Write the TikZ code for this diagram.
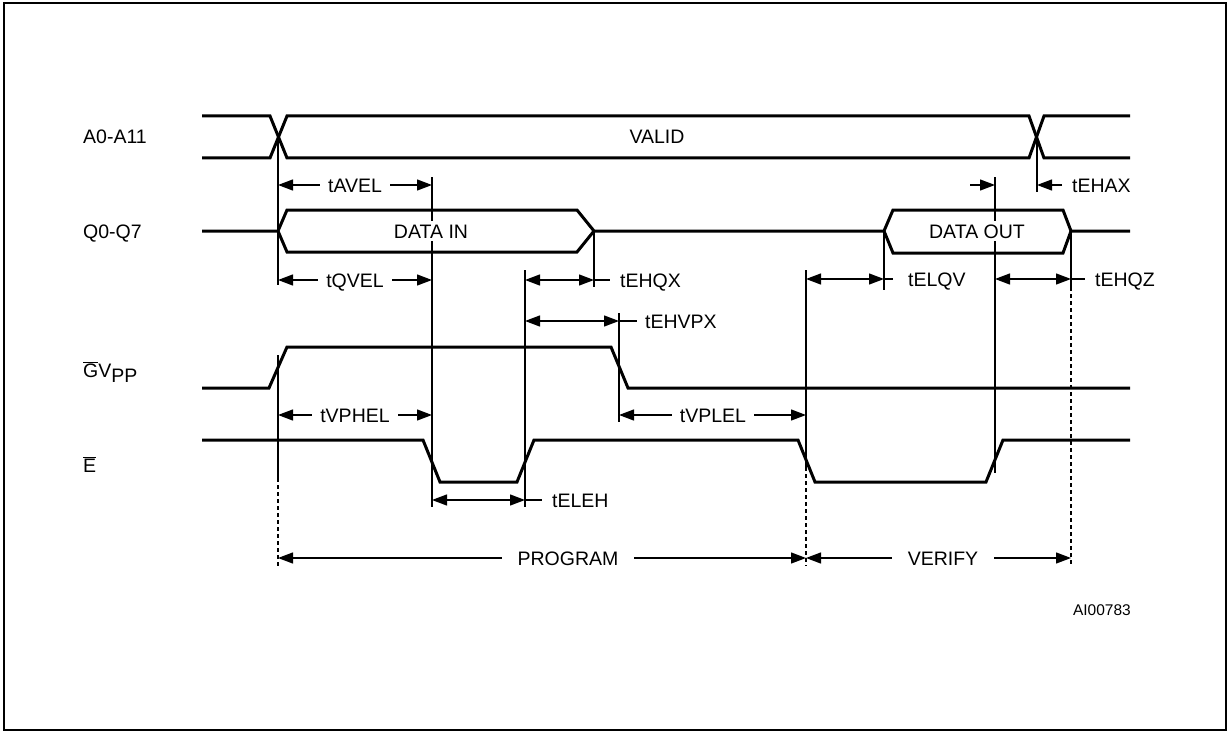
\documentclass[tikz,border=0pt]{standalone}
\usepackage{fontspec}
\setmainfont{Liberation Sans}
\usetikzlibrary{arrows.meta}
\begin{document}
\begin{tikzpicture}[x=1pt,y=-1pt,
  sig/.style={line width=3pt,line join=miter},
  guide/.style={line width=1.3pt},
  dsh/.style={line width=1.3pt,dash pattern=on 4pt off 3pt},
  tipr/.style={-{Triangle[length=15pt,width=11pt]}},
  dim/.style={line width=1.3pt,{Triangle[length=15pt,width=11pt]}-{Triangle[length=15pt,width=11pt]}},
  lbl/.style={font=\fontsize{19.5}{22}\selectfont,text height=14pt,text depth=0pt,inner sep=0pt},
  mid/.style={lbl,fill=white,inner xsep=8pt,inner ysep=2pt},
  wide/.style={mid,inner xsep=16pt},
  box/.style={lbl,fill=white,inner xsep=2pt,inner ysep=3pt}]
\useasboundingbox (0,0) rectangle (1229,733);
\draw[line width=2.5pt] (4,3) rectangle (1226,730);

% signal names
\node[lbl,anchor=west] (lA) at (83,137) {A0-A11};
\node[lbl,anchor=west] (lQ) at (83,231) {Q0-Q7};
\node[lbl,anchor=base west] (lG) at (83,377) {$\overline{\mbox{G}}$V\raisebox{-5pt}{PP}};
\node[lbl,anchor=base west] (lE) at (83,472) {$\overline{\mbox{E}}$};

% waveforms
\draw[sig] (202,116) -- (270,116) -- (287,158) -- (1029,158) -- (1044,116) -- (1130,116);
\draw[sig] (202,158) -- (270,158) -- (287,116) -- (1029,116) -- (1044,158) -- (1130,158);
\draw[sig] (202,231) -- (278,231) -- (287,210) -- (577,210) -- (594,231) -- (884,231)
  -- (893,210) -- (1063,210) -- (1071,231) -- (1130,231);
\draw[sig] (278,231) -- (287,252) -- (577,252) -- (594,231);
\draw[sig] (884,231) -- (893,253) -- (1063,253) -- (1071,231);
\draw[sig] (202,388) -- (269,388) -- (287,347) -- (611,347) -- (628,388) -- (1130,388);
\draw[sig] (202,440) -- (423,440) -- (440,482) -- (517,482) -- (534,440) -- (798,440)
  -- (815,482) -- (986,482) -- (1003,440) -- (1130,440);

% guide coordinates
\coordinate (a1t) at (278,137); \coordinate (a1b) at (278,285);
\coordinate (g1t) at (278,355); \coordinate (g1m) at (278,478); \coordinate (g1b) at (278,566);
\coordinate (e1t) at (432,177); \coordinate (e1b) at (432,507);
\coordinate (e2t) at (525,270); \coordinate (e2b) at (525,507);
\coordinate (q1t) at (594,231); \coordinate (q1b) at (594,287);
\coordinate (v1t) at (619,313); \coordinate (v1b) at (619,422);
\coordinate (e3t) at (806,270); \coordinate (e3m) at (806,467); \coordinate (e3b) at (806,566);
\coordinate (q2t) at (884,231); \coordinate (q2b) at (884,290);
\coordinate (e4t) at (995,177); \coordinate (e4b) at (995,473);
\coordinate (a2t) at (1037,137); \coordinate (a2b) at (1037,192);
\coordinate (q3t) at (1071,231); \coordinate (q3m) at (1071,287); \coordinate (q3b) at (1071,566);

\draw[guide] (a1t) -- (a1b);
\draw[guide] (g1t) -- (g1m); \draw[dsh] (g1m) -- (g1b);
\draw[guide] (e1t) -- (e1b);
\draw[guide] (e2t) -- (e2b);
\draw[guide] (q1t) -- (q1b);
\draw[guide] (v1t) -- (v1b);
\draw[guide] (e3t) -- (e3m); \draw[dsh] (e3m) -- (e3b);
\draw[guide] (q2t) -- (q2b);
\draw[guide] (e4t) -- (e4b);
\draw[guide] (a2t) -- (a2b);
\draw[guide] (q3t) -- (q3m); \draw[dsh] (q3m) -- (q3b);

% bus labels
\node[lbl] (valid) at (657,137) {VALID};
\node[box] (din) at (431,231) {DATA IN};
\node[box] (dout) at (977,231) {DATA OUT};

% dimension end points
\coordinate (avL) at (278,185); \coordinate (avR) at (432,185);
\coordinate (qvL) at (278,280); \coordinate (qvR) at (432,280);
\coordinate (hqL) at (525,280); \coordinate (hqR) at (594,280); \coordinate (hqT) at (610,280);
\coordinate (hvL) at (525,321); \coordinate (hvR) at (619,321); \coordinate (hvT) at (637,321);
\coordinate (phL) at (278,415); \coordinate (phR) at (432,415);
\coordinate (plL) at (619,415); \coordinate (plR) at (806,415);
\coordinate (ehL) at (432,500); \coordinate (ehR) at (525,500); \coordinate (ehT) at (542,500);
\coordinate (lqL) at (806,279); \coordinate (lqR) at (884,279); \coordinate (lqT) at (893,279);
\coordinate (hzL) at (995,279); \coordinate (hzR) at (1071,279); \coordinate (hzT) at (1085,279);
\coordinate (haO) at (970,185); \coordinate (haL) at (995,185);
\coordinate (haR) at (1037,185); \coordinate (haP) at (1062,185);
\coordinate (prL) at (278,558); \coordinate (prR) at (806,558); \coordinate (vfR) at (1071,558);

% dimension arrows
\draw[dim] (avL) -- (avR);
\draw[dim] (qvL) -- (qvR);
\draw[dim] (hqL) -- (hqR); \draw[guide] (hqR) -- (hqT);
\draw[dim] (hvL) -- (hvR); \draw[guide] (hvR) -- (hvT);
\draw[dim] (phL) -- (phR);
\draw[dim] (plL) -- (plR);
\draw[dim] (ehL) -- (ehR); \draw[guide] (ehR) -- (ehT);
\draw[dim] (lqL) -- (lqR); \draw[guide] (lqR) -- (lqT);
\draw[dim] (hzL) -- (hzR); \draw[guide] (hzR) -- (hzT);
\draw[guide,tipr] (haO) -- (haL);
\draw[guide,tipr] (haP) -- (haR);
\draw[dim] (prL) -- (prR);
\draw[dim] (prR) -- (vfR);

% timing labels
\node[mid] (tavel) at (355,185) {tAVEL};
\node[mid] (tqvel) at (355,280) {tQVEL};
\node[mid] (tvphel) at (355,415) {tVPHEL};
\node[mid] (tvplel) at (713,415) {tVPLEL};
\node[lbl,anchor=west] (tehqx) at (620,280) {tEHQX};
\node[lbl,anchor=west] (tehvpx) at (645,321) {tEHVPX};
\node[lbl,anchor=west] (teleh) at (552,500) {tELEH};
\node[lbl,anchor=west] (telqv) at (908,279) {tELQV};
\node[lbl,anchor=west] (tehqz) at (1095,279) {tEHQZ};
\node[lbl,anchor=west] (tehax) at (1072,185) {tEHAX};
\node[wide] (prog) at (568,558) {PROGRAM};
\node[wide] (verify) at (943,558) {VERIFY};
\node[lbl,font=\fontsize{15.5}{18}\selectfont,text height=11pt,anchor=east] (ref) at (1131,610) {AI00783};
\end{tikzpicture}
\end{document}
